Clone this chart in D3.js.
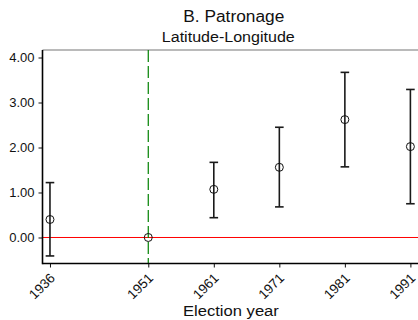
<!DOCTYPE html>
<html>
<head>
<meta charset="utf-8">
<script src="https://cdn.jsdelivr.net/npm/d3@7"></script>
<style>
  body { margin: 0; background: #fff; }
  svg { display: block; font-family: Arial, "Liberation Sans", sans-serif; }
</style>
</head>
<body>
<svg id="viz" width="418" height="320"></svg>
<script>
"use strict";
// election years and estimates with 95% intervals
const years = [1936, 1951, 1961, 1971, 1981, 1991];
const estimates = [0.40, 0.00, 1.07, 1.56, 2.62, 2.02];
const lower = [-0.41, null, 0.44, 0.68, 1.57, 0.75];
const upper = [1.22, null, 1.67, 2.45, 3.67, 3.29];
const yTicks = [0, 1, 2, 3, 4];
const baseYear = 1951;

const svg = d3.select("#viz");
const w = 418, h = 320;
const margin = { top: 50, left: 42.5, bottom: 56.5, right: 0 };

const xScale = d3.scaleLinear()
    .domain([1934.86, 1992.16])
    .range([margin.left, w - margin.right]);
const yScale = d3.scaleLinear()
    .domain([-0.578, 4.167])
    .range([h - margin.bottom, margin.top]);

const data = years.map((y, i) => ({ year: y, est: estimates[i], lo: lower[i], hi: upper[i] }));

// plot frame (top edge is lighter)
svg.append("line")
    .attr("x1", margin.left).attr("x2", w)
    .attr("y1", margin.top).attr("y2", margin.top)
    .attr("stroke", "#777").attr("stroke-width", 1.2);

const yAxis = d3.axisLeft(yScale).tickValues(yTicks).tickFormat(d3.format(".2f")).tickSize(4).tickSizeOuter(0);
const gy = svg.append("g")
    .attr("class", "y axis")
    .attr("transform", `translate(${margin.left}, 0)`)
    .call(yAxis);
gy.select(".domain").remove();
gy.selectAll("text").attr("font-size", 13).attr("fill", "#111").attr("x", -8);
gy.selectAll("line").attr("stroke", "#111");

const xAxis = d3.axisBottom(xScale).tickValues(years).tickFormat(d3.format("d")).tickSize(4).tickSizeOuter(0);
const gx = svg.append("g")
    .attr("class", "x axis")
    .attr("transform", `translate(0, ${h - margin.bottom})`)
    .call(xAxis);
gx.select(".domain").remove();
gx.selectAll("line").attr("stroke", "#111");
gx.selectAll("text")
    .attr("font-size", 13.5)
    .attr("fill", "#111")
    .attr("text-anchor", "end")
    .attr("y", 0)
    .attr("dy", "0.35em")
    .attr("transform", "translate(2, 12) rotate(-45)");

// reference lines
svg.append("line")
    .attr("x1", margin.left).attr("x2", w)
    .attr("y1", yScale(0)).attr("y2", yScale(0))
    .attr("stroke", "#ff0000").attr("stroke-width", 1);
svg.append("line")
    .attr("x1", xScale(baseYear)).attr("x2", xScale(baseYear))
    .attr("y1", margin.top).attr("y2", h - margin.bottom)
    .attr("stroke", "#008000").attr("stroke-width", 1.2)
    .style("stroke-dasharray", "12, 4");

svg.append("line")
    .attr("x1", margin.left).attr("x2", margin.left)
    .attr("y1", margin.top).attr("y2", h - margin.bottom + 0.75)
    .attr("stroke", "#000").attr("stroke-width", 1.6);
svg.append("line")
    .attr("x1", margin.left).attr("x2", w)
    .attr("y1", h - margin.bottom).attr("y2", h - margin.bottom)
    .attr("stroke", "#000").attr("stroke-width", 1.6);

// error bars
const bars = data.filter(d => d.lo !== null);
const capW = 4.3;
const eb = svg.selectAll(".ci").data(bars).enter().append("g").attr("class", "ci")
    .attr("stroke", "#1a1a1a").attr("stroke-width", 1.6);
eb.append("line")
    .attr("x1", d => xScale(d.year)).attr("x2", d => xScale(d.year))
    .attr("y1", d => yScale(d.lo)).attr("y2", d => yScale(d.hi));
eb.append("line")
    .attr("x1", d => xScale(d.year) - capW).attr("x2", d => xScale(d.year) + capW)
    .attr("y1", d => yScale(d.hi)).attr("y2", d => yScale(d.hi));
eb.append("line")
    .attr("x1", d => xScale(d.year) - capW).attr("x2", d => xScale(d.year) + capW)
    .attr("y1", d => yScale(d.lo)).attr("y2", d => yScale(d.lo));

svg.selectAll(".pt").data(data).enter().append("circle")
    .attr("class", "pt")
    .attr("cx", d => xScale(d.year))
    .attr("cy", d => yScale(d.est))
    .attr("r", 4)
    .attr("fill", "none")
    .attr("stroke", "#111")
    .attr("stroke-width", 1);

// titles
svg.append("text")
    .attr("x", 233.8).attr("y", 21.7)
    .attr("text-anchor", "middle").attr("font-size", 16).attr("fill", "#111")
    .attr("textLength", 101).attr("lengthAdjust", "spacingAndGlyphs")
    .text("B. Patronage");
svg.append("text")
    .attr("x", 228.3).attr("y", 41.7)
    .attr("text-anchor", "middle").attr("font-size", 14).attr("fill", "#111")
    .attr("textLength", 133).attr("lengthAdjust", "spacingAndGlyphs")
    .text("Latitude-Longitude");
svg.append("text")
    .attr("x", 230.9).attr("y", 316)
    .attr("text-anchor", "middle").attr("font-size", 15.5).attr("fill", "#111")
    .attr("textLength", 96).attr("lengthAdjust", "spacingAndGlyphs")
    .text("Election year");
</script>
</body>
</html>
